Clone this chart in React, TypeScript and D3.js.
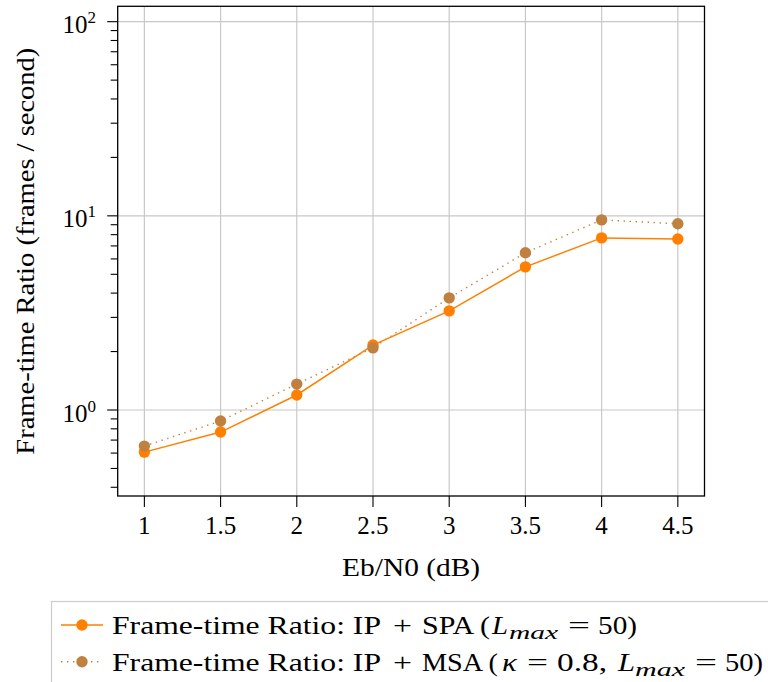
import React from "react";
import * as d3 from "d3";

const ebn0 = [1, 1.5, 2, 2.5, 3, 3.5, 4, 4.5];
const spaRatio = [0.607, 0.77, 1.195, 2.16, 3.24, 5.46, 7.7, 7.6];
const msaRatio = [0.652, 0.878, 1.36, 2.09, 3.78, 6.45, 9.53, 9.1];
const xTicks = [1, 1.5, 2, 2.5, 3, 3.5, 4, 4.5];
const yMajor = [1, 10, 100];
const yMajorExp = ["0", "1", "2"];

const W = 768, H = 682;
const L = 117.7, R = 704.5, T = 6.3, B = 496;
const FONT = "'Liberation Serif', 'Times New Roman', serif";
const ORANGE = "#ff8000";
const BROWN = "#bf8040";

type Seg = { t: string; x: number; w?: number; it?: boolean; sub?: boolean };

const row1: Seg[] = [
  { t: "Frame-time Ratio: IP", x: 112, w: 269 },
  { t: "+", x: 393, w: 19 },
  { t: "SPA (", x: 422, w: 68 },
  { t: "L", x: 492, w: 16, it: true },
  { t: "max", x: 509, w: 49, it: true, sub: true },
  { t: "=", x: 568, w: 22 },
  { t: "50)", x: 598, w: 39 },
];
const row2: Seg[] = [
  { t: "Frame-time Ratio: IP", x: 112, w: 269 },
  { t: "+", x: 393, w: 19 },
  { t: "MSA (", x: 422, w: 76 },
  { t: "κ", x: 502, w: 15, it: true },
  { t: "=", x: 527, w: 21 },
  { t: "0.8,", x: 557, w: 50 },
  { t: "L", x: 618, w: 17, it: true },
  { t: "max", x: 635, w: 50, it: true, sub: true },
  { t: "=", x: 695, w: 22 },
  { t: "50)", x: 725, w: 38 },
];

function Row({ segs, y }: { segs: Seg[]; y: number }) {
  return (
    <g>
      {segs.map((s, i) => (
        <text
          key={i}
          x={s.x}
          y={s.sub ? y + 5 : y}
          fontSize={s.sub ? 19 : 25}
          fontStyle={s.it ? "italic" : "normal"}
          textLength={s.w}
          lengthAdjust="spacingAndGlyphs"
          fill="#000"
        >
          {s.t}
        </text>
      ))}
    </g>
  );
}

export default function App() {
  const x = d3.scaleLinear().domain([0.825, 4.675]).range([L, R]);
  const y = d3.scaleLog().domain([0.3607, 120]).range([B, T]);
  const [y0, y1] = y.domain();
  const minor: number[] = [];
  for (let e = -1; e <= 2; e++) {
    for (let m = 2; m <= 9; m++) {
      const v = m * Math.pow(10, e);
      if (v >= y0 && v <= y1) minor.push(v);
    }
  }
  const line = d3
    .line<number>()
    .x((_, i) => x(ebn0[i]))
    .y((d) => y(d));

  return (
    <svg width={W} height={H} style={{ position: "absolute", left: 0, top: 0 }} fontFamily={FONT}>
      <rect x={0} y={0} width={W} height={H} fill="#fff" />
      {xTicks.map((t) => (
        <line key={"gx" + t} x1={x(t)} x2={x(t)} y1={T} y2={B} stroke="#c8c8c8" strokeWidth={1.2} />
      ))}
      {yMajor.map((t) => (
        <line key={"gy" + t} x1={L} x2={R} y1={y(t)} y2={y(t)} stroke="#c8c8c8" strokeWidth={1.2} />
      ))}
      {minor.map((t) => (
        <line key={"my" + t} x1={L - 7} x2={L} y1={y(t)} y2={y(t)} stroke="#000" strokeWidth={1.1} />
      ))}
      {yMajor.map((t, i) => (
        <g key={"My" + t}>
          <line x1={L - 10.5} x2={L} y1={y(t)} y2={y(t)} stroke="#000" strokeWidth={1.1} />
          <text x={96} y={y(t) + 11.5} textAnchor="end" fontSize={25} fill="#000">
            10
            <tspan fontSize={17} dy={-10}>{yMajorExp[i]}</tspan>
          </text>
        </g>
      ))}
      {xTicks.map((t) => (
        <g key={"xt" + t}>
          <line x1={x(t)} x2={x(t)} y1={B} y2={B + 11} stroke="#000" strokeWidth={1.1} />
          <text x={x(t)} y={534} textAnchor="middle" fontSize={25} fill="#000">
            {String(t)}
          </text>
        </g>
      ))}
      <rect x={L} y={T} width={R - L} height={B - T} fill="none" stroke="#000" strokeWidth={1.3} />
      <path d={line(msaRatio) || ""} fill="none" stroke={BROWN} strokeWidth={1.4} strokeDasharray="1.4 4.6" />
      <path d={line(spaRatio) || ""} fill="none" stroke={ORANGE} strokeWidth={1.5} />
      {spaRatio.map((v, i) => (
        <circle key={"s" + i} cx={x(ebn0[i])} cy={y(v)} r={5.7} fill={ORANGE} />
      ))}
      {msaRatio.map((v, i) => (
        <circle key={"m" + i} cx={x(ebn0[i])} cy={y(v)} r={5.7} fill={BROWN} />
      ))}
      <text
        x={(L + R) / 2}
        y={576}
        textAnchor="middle"
        fontSize={25}
        fill="#000"
        textLength={138}
        lengthAdjust="spacingAndGlyphs"
      >
        Eb/N0 (dB)
      </text>
      <text
        transform={`translate(34, ${(T + B) / 2}) rotate(-90)`}
        textAnchor="middle"
        fontSize={25}
        fill="#000"
        textLength={407}
        lengthAdjust="spacingAndGlyphs"
      >
        Frame-time Ratio (frames / second)
      </text>
      <rect x={51.5} y={601.5} width={760} height={120} fill="#fff" stroke="#cccccc" strokeWidth={1.2} />
      <line x1={61} x2={103} y1={625} y2={625} stroke={ORANGE} strokeWidth={1.5} />
      <circle cx={82} cy={625} r={5.7} fill={ORANGE} />
      <line x1={61} x2={103} y1={661.7} y2={661.7} stroke={BROWN} strokeWidth={1.4} strokeDasharray="1.4 4.6" />
      <circle cx={82} cy={661.7} r={5.7} fill={BROWN} />
      <Row segs={row1} y={634} />
      <Row segs={row2} y={671} />
    </svg>
  );
}
